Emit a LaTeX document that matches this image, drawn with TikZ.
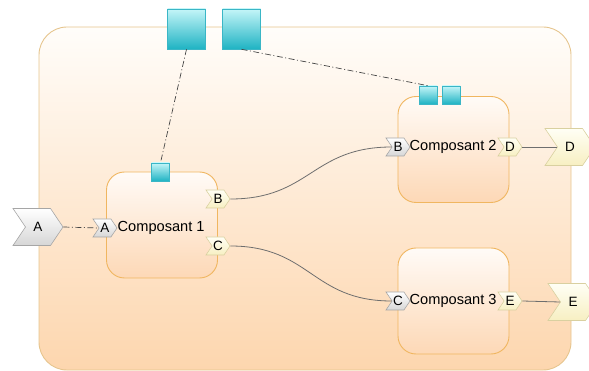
\documentclass[tikz,border=0pt]{standalone}
\usepackage{fontspec}
\setmainfont{Liberation Sans}
\usetikzlibrary{shapes.symbols}
\definecolor{outerline}{HTML}{E6C58E}
\definecolor{outertop}{HTML}{FFFDFA}
\definecolor{outerbot}{HTML}{FDD6AE}
\definecolor{compline}{HTML}{F0B660}
\definecolor{comptop}{HTML}{FFFBF7}
\definecolor{compbot}{HTML}{FDD8B6}
\definecolor{sqline}{HTML}{3AB6C6}
\definecolor{sqtop}{HTML}{C4F5F8}
\definecolor{sqbot}{HTML}{1FB3C3}
\definecolor{greyline}{HTML}{A6A6A6}
\definecolor{greybot}{HTML}{D6D6D6}
\definecolor{yelline}{HTML}{D9D0A0}
\definecolor{yeltop}{HTML}{FFFFF5}
\definecolor{yelbot}{HTML}{F7EFC2}
\definecolor{connc}{HTML}{6E6E6E}
\definecolor{dashc}{HTML}{454545}
\begin{document}
\begin{tikzpicture}[x=1pt,y=-1pt,
  outerbox/.style={draw=outerline, line width=0.9pt, rounded corners=28pt,
    top color=outertop, bottom color=outerbot, minimum width=532pt, minimum height=343pt, inner sep=0pt},
  compbox/.style={draw=compline, line width=0.9pt, rounded corners=18pt,
    top color=comptop, bottom color=compbot, minimum width=111pt, minimum height=106pt, inner sep=0pt},
  sq/.style={draw=sqline, line width=0.6pt, top color=sqtop, bottom color=sqbot, inner sep=0pt},
  smallsq/.style={sq, minimum width=18pt, minimum height=18pt},
  bigsq/.style={sq, minimum width=38pt, minimum height=40pt},
  port/.style={shape=signal, signal from=west, signal to=east, signal pointer angle=112,
    minimum width=24pt, minimum height=18pt, inner sep=0pt, line width=0.6pt,
    font=\fontsize{13.5}{13.5}\selectfont},
  ext/.style={port, minimum width=50pt, minimum height=37pt},
  greyp/.style={draw=greyline, top color=white, bottom color=greybot},
  yelp/.style={draw=yelline, top color=yeltop, bottom color=yelbot},
  lbl/.style={font=\fontsize{14.6}{14.6}\selectfont, inner sep=0pt, anchor=west},
  conn/.style={draw=connc, line width=0.8pt},
  dashdot/.style={draw=dashc, line width=0.7pt, dash pattern=on 6pt off 2.5pt on 1pt off 2.5pt}
]
\useasboundingbox (0,0) rectangle (589,371);
\begin{scope}
\clip (0,0) rectangle (589,371);
% outer composite
\node[outerbox] (outer) at (305,198.5) {};
% components
\node[compbox] (c1) at (162,225) {};
\node[compbox] (c2) at (453.5,149.5) {};
\node[compbox] (c3) at (453.5,301) {};
% labels
\node[lbl] (t1) at (117.5,228) {Composant 1};
\node[lbl] (t2) at (409.5,147) {Composant 2};
\node[lbl] (t3) at (409.5,301) {Composant 3};
% ports
\node[port,greyp] (p1A) at (105,228) {A};
\node[port,yelp] (p1B) at (218,199) {B};
\node[port,yelp] (p1C) at (218,246) {C};
\node[port,greyp] (p2B) at (398,147) {B};
\node[port,yelp] (p2D) at (510,147) {D};
\node[port,greyp] (p3C) at (398,301) {C};
\node[port,yelp] (p3E) at (510,301) {E};
% external ports
\node[ext,greyp] (xA) at (38,227) {A};
\node[ext,yelp] (xD) at (570,147) {D};
\node[ext,yelp] (xE) at (573,302) {E};
% connectors
\draw[conn] (p1B.east) .. controls +(80,0) and +(-80,0) .. (p2B.west);
\draw[conn] (p1C.east) .. controls +(80,0) and +(-80,0) .. (p3C.west);
\draw[conn] (p2D.east) -- (xD.west);
\draw[conn] (p3E.east) -- (xE.west);
\draw[dashdot] (xA.east) -- (p1A.west);
% squares
\node[bigsq] (s1) at (186.5,29) {};
\node[bigsq] (s2) at (241.5,29) {};
\node[smallsq] (q1) at (160.5,172) {};
\node[smallsq] (q2) at (428,95) {};
\node[smallsq] (q3) at (451,95) {};
\draw[dashdot] (s1.south) -- (q1.north);
\draw[dashdot] (s2.south) -- (q2.north);
\end{scope}
\end{tikzpicture}
\end{document}
